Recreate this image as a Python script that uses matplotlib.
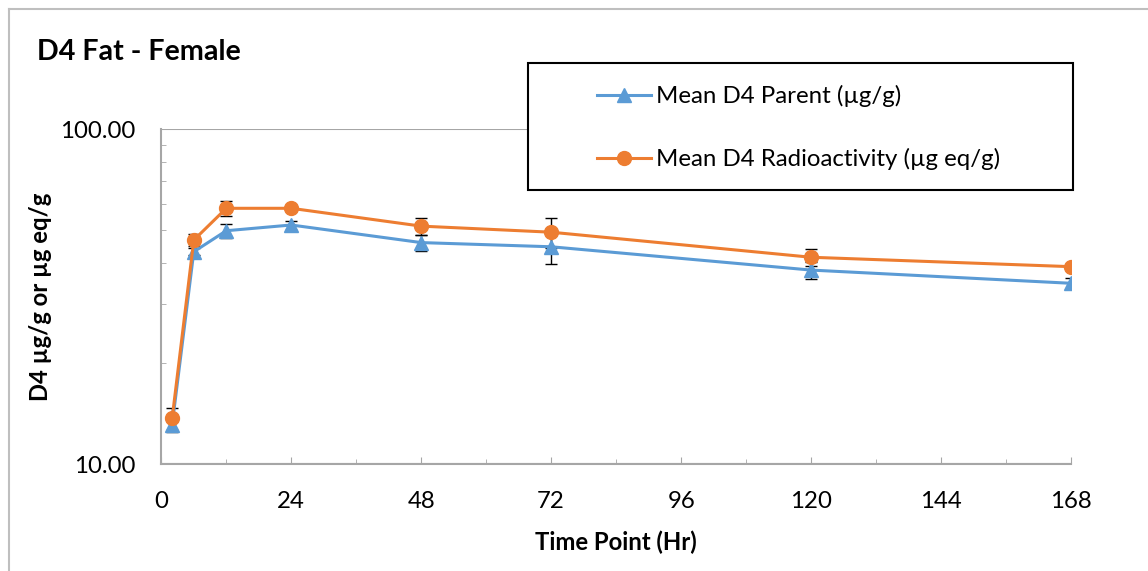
import numpy as np
import matplotlib.pyplot as plt
from matplotlib.ticker import MultipleLocator, LogLocator, FormatStrFormatter, NullFormatter
from matplotlib.lines import Line2D
from matplotlib.patches import Rectangle

plt.rcParams['font.family'] = ['Lato', 'DejaVu Sans']

# time points (hr)
hours = [2, 6, 12, 24, 48, 72, 120, 168]

parent = [13.1, 43.1, 49.8, 51.8, 45.9, 44.6, 38.0, 34.7]
parent_err = [0.6, 1.0, 2.3, 1.6, 2.6, 4.9, 2.3, 1.3]

radio = [13.7, 46.7, 58.1, 58.1, 51.4, 49.3, 41.5, 38.9]
radio_err = [1.0, 2.0, 2.9, 0.3, 3.1, 5.2, 2.4, 0.5]

blue = '#5B9BD5'
orange = '#ED7D31'
grey = '#A6A6A6'

fig = plt.figure(figsize=(11.48, 5.71), dpi=100)
ax = fig.add_axes([161.3/1148, 1 - 464.3/571, (1071 - 161.3)/1148, (464.3 - 129.3)/571])

# error bars under the markers
ax.errorbar(hours, parent, yerr=parent_err, fmt='none', ecolor='black', elinewidth=1, capsize=4, capthick=1, zorder=2)
ax.errorbar(hours, radio, yerr=radio_err, fmt='none', ecolor='black', elinewidth=1, capsize=4, capthick=1, zorder=2)

ax.plot(hours, parent, color=blue, lw=2.2, marker='^', ms=10.5, label='Mean D4 Parent (µg/g)', zorder=3)
ax.plot(hours, radio, color=orange, lw=2.2, marker='o', ms=10, label='Mean D4 Radioactivity (µg eq/g)', zorder=4)

ax.set_yscale('log')
ax.set_ylim(10, 100)
ax.set_xlim(0, 168)

ax.xaxis.set_major_locator(MultipleLocator(24))
ax.xaxis.set_minor_locator(MultipleLocator(12))
ax.yaxis.set_major_locator(LogLocator(base=10))
ax.yaxis.set_minor_locator(LogLocator(base=10, subs=np.arange(2, 10)))
ax.yaxis.set_major_formatter(FormatStrFormatter('%.2f'))
ax.yaxis.set_minor_formatter(NullFormatter())

ax.tick_params(axis='both', which='both', direction='in', color=grey, labelsize=17.3)
ax.tick_params(axis='x', which='major', length=5, pad=19)
ax.tick_params(axis='x', which='minor', length=3.6)
ax.tick_params(axis='y', which='major', length=0, pad=19)
ax.tick_params(axis='y', which='minor', length=3.6)

for s in ['top', 'right']:
    ax.spines[s].set_visible(False)
for s in ['left', 'bottom']:
    ax.spines[s].set_color(grey)
    ax.spines[s].set_linewidth(1.5)

ax.yaxis.grid(True, which='major', color=grey, lw=1.5)
ax.set_axisbelow(True)

ax.set_xlabel('Time Point (Hr)', fontsize=17.2, fontweight='bold')
ax.set_ylabel('D4 µg/g or µg eq/g', fontsize=17.2, fontweight='bold')
ax.xaxis.set_label_coords(0.5, -0.199)
ax.yaxis.set_label_coords(-0.120, 0.5)

fig.text(37/1148, 1 - 52.5/571, 'D4 Fat - Female', fontsize=20.6, fontweight='bold', va='center', ha='left')

# legend box drawn by hand, entries without frame
fig.patches.append(Rectangle((528/1148, 1 - 190/571), 545/1148, 127/571, transform=fig.transFigure,
                             facecolor='white', edgecolor='black', lw=1.5, zorder=5))
leg = fig.legend(loc='upper left', bbox_to_anchor=(597/1148, 1 - 85/571), frameon=False, fontsize=17.3,
                 handlelength=2.25, handletextpad=0.2, labelspacing=1.7, borderpad=0, borderaxespad=0)
leg.set_zorder(6)

# outer chart border (only left and top are in view)
fig.add_artist(Line2D([9/1148, 9/1148], [0, 1 - 9/571], color='#BFBFBF', lw=1.5, transform=fig.transFigure))
fig.add_artist(Line2D([9/1148, 1], [1 - 9/571, 1 - 9/571], color='#BFBFBF', lw=1.5, transform=fig.transFigure))

fig.savefig('out.png', dpi=100)
